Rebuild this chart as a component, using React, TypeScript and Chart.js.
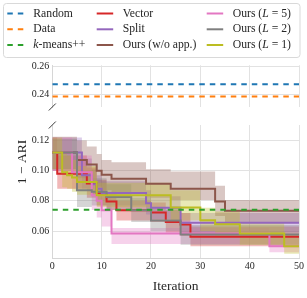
import { useEffect, useRef } from "react";
import { Chart, registerables } from "chart.js";

Chart.register(...registerables);

// ---------- data ----------
const xTicks = [0, 10, 20, 30, 40, 50];
const topTicks = [0.24, 0.26];
const bottomTicks = [0.06, 0.08, 0.1, 0.12];

const randomValue = 0.2471;
const dataValue = 0.2383;
const kmeansValue = 0.0742;

const vectorX = [0, 1, 7, 9, 11, 13, 20, 23, 26, 28, 50];
const vectorMean = [0.112, 0.098, 0.0915, 0.085, 0.0795, 0.0738, 0.0723, 0.0661, 0.0644, 0.0562, 0.0562];
const vectorHi = [0.122, 0.11, 0.102, 0.094, 0.086, 0.08, 0.079, 0.074, 0.072, 0.063, 0.063];
const vectorLo = [0.1, 0.088, 0.082, 0.077, 0.074, 0.067, 0.066, 0.059, 0.057, 0.05, 0.05];

const splitX = [0, 6, 8, 9, 10, 19, 20, 26, 50];
const splitMean = [0.112, 0.097, 0.091, 0.088, 0.0852, 0.0785, 0.0755, 0.0655, 0.0655];
const splitHi = [0.122, 0.108, 0.101, 0.097, 0.093, 0.087, 0.083, 0.072, 0.072];
const splitLo = [0.1, 0.088, 0.083, 0.08, 0.077, 0.071, 0.068, 0.059, 0.059];

const woX = [0, 5, 7, 9, 10, 12, 19, 24, 33, 35, 50];
const woMean = [0.112, 0.107, 0.104, 0.1, 0.0973, 0.0947, 0.0914, 0.088, 0.0795, 0.0735, 0.0735];
const woHi = [0.1225, 0.12, 0.116, 0.111, 0.107, 0.1055, 0.101, 0.0995, 0.09, 0.0805, 0.0805];
const woLo = [0.101, 0.095, 0.092, 0.089, 0.087, 0.085, 0.082, 0.0805, 0.07, 0.066, 0.066];

const l5X = [0, 4, 8, 9, 10, 12, 44, 50];
const l5Mean = [0.112, 0.099, 0.0837, 0.08, 0.0738, 0.0584, 0.05, 0.05];
const l5Hi = [0.122, 0.11, 0.095, 0.09, 0.083, 0.062, 0.056, 0.056];
const l5Lo = [0.1, 0.088, 0.074, 0.069, 0.063, 0.0515, 0.046, 0.046];

const l2X = [0, 5, 8, 11, 16, 20, 26, 50];
const l2Mean = [0.112, 0.087, 0.086, 0.0826, 0.0738, 0.067, 0.0578, 0.0578];
const l2Hi = [0.121, 0.099, 0.095, 0.091, 0.082, 0.075, 0.064, 0.064];
const l2Lo = [0.101, 0.076, 0.077, 0.074, 0.066, 0.06, 0.051, 0.051];

const l1X = [0, 2, 3, 4, 5, 9, 24, 30, 33, 38, 47, 50];
const l1Mean = [0.112, 0.099, 0.097, 0.0955, 0.0925, 0.0837, 0.0756, 0.0672, 0.0645, 0.0584, 0.05, 0.05];
const l1Hi = [0.122, 0.112, 0.11, 0.107, 0.103, 0.092, 0.087, 0.0755, 0.073, 0.066, 0.058, 0.058];
const l1Lo = [0.101, 0.089, 0.088, 0.086, 0.084, 0.076, 0.067, 0.06, 0.057, 0.051, 0.045, 0.045];

// ---------- style ----------
const FONT = '"Liberation Serif", "Times New Roman", serif';
const TEXT = "#262626";
const GRID = "#e2e2e2";
const SPINE = "#d6d6d6";
const C = {
  blue: "#1f77b4",
  orange: "#ff7f0e",
  green: "#2ca02c",
  red: "#d62728",
  purple: "#9467bd",
  brown: "#8c564b",
  pink: "#e377c2",
  gray: "#7f7f7f",
  olive: "#bcbd22",
};
const DASH = [5.5, 5];

function rgba(hex: string, a: number) {
  const n = parseInt(hex.slice(1), 16);
  return `rgba(${(n >> 16) & 255},${(n >> 8) & 255},${n & 255},${a})`;
}
function pts(xs: number[], ys: number[]) {
  return xs.map((x, i) => ({ x, y: ys[i] }));
}

const series = [
  { label: "Vector", color: C.red, x: vectorX, mean: vectorMean, hi: vectorHi, lo: vectorLo },
  { label: "Split", color: C.purple, x: splitX, mean: splitMean, hi: splitHi, lo: splitLo },
  { label: "Ours (w/o app.)", color: C.brown, x: woX, mean: woMean, hi: woHi, lo: woLo },
  { label: "Ours (L = 5)", color: C.pink, x: l5X, mean: l5Mean, hi: l5Hi, lo: l5Lo },
  { label: "Ours (L = 2)", color: C.gray, x: l2X, mean: l2Mean, hi: l2Hi, lo: l2Lo },
  { label: "Ours (L = 1)", color: C.olive, x: l1X, mean: l1Mean, hi: l1Hi, lo: l1Lo },
];

type Run = { t: string; i?: boolean };
const legendItems: { runs: Run[]; color: string; dashed: boolean; col: number; row: number }[] = [
  { runs: [{ t: "Random" }], color: C.blue, dashed: true, col: 0, row: 0 },
  { runs: [{ t: "Data" }], color: C.orange, dashed: true, col: 0, row: 1 },
  { runs: [{ t: "k", i: true }, { t: "-means++" }], color: C.green, dashed: true, col: 0, row: 2 },
  { runs: [{ t: "Vector" }], color: C.red, dashed: false, col: 1, row: 0 },
  { runs: [{ t: "Split" }], color: C.purple, dashed: false, col: 1, row: 1 },
  { runs: [{ t: "Ours (w/o app.)" }], color: C.brown, dashed: false, col: 1, row: 2 },
  { runs: [{ t: "Ours (" }, { t: "L", i: true }, { t: " = 5)" }], color: C.pink, dashed: false, col: 2, row: 0 },
  { runs: [{ t: "Ours (" }, { t: "L", i: true }, { t: " = 2)" }], color: C.gray, dashed: false, col: 2, row: 1 },
  { runs: [{ t: "Ours (" }, { t: "L", i: true }, { t: " = 1)" }], color: C.olive, dashed: false, col: 2, row: 2 },
];
const legendColX = [7.3, 96.7, 206.7];
const legendRowY = [13.5, 29.3, 45];

const LEGEND_FONT = 11.7;

const legendPlugin = {
  id: "legendBox",
  afterDraw(chart: any) {
    const ctx: CanvasRenderingContext2D = chart.ctx;
    ctx.save();
    ctx.beginPath();
    (ctx as any).roundRect(3.5, 3.5, 296.5, 54, 3);
    ctx.strokeStyle = "#d9d9d9";
    ctx.lineWidth = 1;
    ctx.stroke();
    legendItems.forEach((it) => {
      const x0 = legendColX[it.col];
      const y = legendRowY[it.row];
      ctx.beginPath();
      ctx.setLineDash(it.dashed ? DASH : []);
      ctx.lineDashOffset = 0;
      ctx.strokeStyle = it.color;
      ctx.lineWidth = 2;
      ctx.moveTo(x0, y);
      ctx.lineTo(x0 + 16.5, y);
      ctx.stroke();
      ctx.setLineDash([]);
      let x = x0 + 26;
      ctx.fillStyle = TEXT;
      ctx.textBaseline = "middle";
      ctx.textAlign = "left";
      it.runs.forEach((r) => {
        ctx.font = `${r.i ? "italic " : ""}${LEGEND_FONT}px ${FONT}`;
        ctx.fillText(r.t, x, y);
        x += ctx.measureText(r.t).width;
      });
    });
    ctx.restore();
  },
};

function breakMark(ctx: CanvasRenderingContext2D, x: number, y: number) {
  ctx.save();
  ctx.beginPath();
  ctx.strokeStyle = "#3a3a3a";
  ctx.lineWidth = 1;
  ctx.moveTo(x - 3.5, y + 3.5);
  ctx.lineTo(x + 3.5, y - 3.5);
  ctx.stroke();
  ctx.restore();
}

const topBreakPlugin = {
  id: "topBreak",
  afterDraw(chart: any) {
    const a = chart.chartArea;
    breakMark(chart.ctx, a.left, a.bottom);
  },
};

const bottomBreakPlugin = {
  id: "bottomBreak",
  afterDraw(chart: any) {
    const a = chart.chartArea;
    breakMark(chart.ctx, a.left, a.top);
    const ctx: CanvasRenderingContext2D = chart.ctx;
    ctx.save();
    ctx.translate(22, 46);
    ctx.rotate(-Math.PI / 2);
    ctx.font = `13.5px ${FONT}`;
    ctx.fillStyle = TEXT;
    ctx.textAlign = "center";
    ctx.textBaseline = "middle";
    ctx.fillText("1 \u2212 ARI", 0, 0);
    ctx.restore();
  },
};

const Y_AXIS_W = 52.3;

export default function App() {
  const topRef = useRef<HTMLCanvasElement>(null);
  const botRef = useRef<HTMLCanvasElement>(null);

  useEffect(() => {
    const tickFont = { family: FONT, size: 10 };
    const top = new Chart(topRef.current!, {
      type: "line",
      data: {
        datasets: [
          {
            label: "Random",
            data: pts([0, 50], [randomValue, randomValue]),
            borderColor: C.blue,
            borderWidth: 2,
            borderDash: DASH,
            pointRadius: 0,
            fill: false,
          },
          {
            label: "Data",
            data: pts([0, 50], [dataValue, dataValue]),
            borderColor: C.orange,
            borderWidth: 2,
            borderDash: DASH,
            pointRadius: 0,
            fill: false,
          },
        ],
      },
      options: {
        animation: false,
        responsive: false,
        devicePixelRatio: 1,
        layout: { padding: { top: 65.3, bottom: 4.7, left: 0, right: 8 } },
        plugins: { legend: { display: false }, tooltip: { enabled: false } },
        scales: {
          x: {
            type: "linear",
            min: 0,
            max: 50,
            afterBuildTicks: (ax: any) => {
              ax.ticks = xTicks.map((v) => ({ value: v }));
            },
            afterFit: (ax: any) => {
              ax.height = 0;
            },
            ticks: { display: false },
            grid: { color: GRID, drawTicks: false, lineWidth: 1 },
            border: { display: false },
          },
          y: {
            type: "linear",
            min: 0.2307,
            max: 0.2607,
            afterBuildTicks: (ax: any) => {
              ax.ticks = topTicks.map((v) => ({ value: v }));
            },
            afterFit: (ax: any) => {
              ax.width = Y_AXIS_W;
            },
            ticks: {
              font: tickFont,
              color: TEXT,
              padding: 3,
              callback: (v: any) => Number(v).toFixed(2),
            },
            grid: { color: GRID, drawTicks: false, lineWidth: 1 },
            border: { display: true, color: SPINE },
          },
        },
      },
      plugins: [legendPlugin, topBreakPlugin],
    });

    const datasets: any[] = [];
    series.forEach((s, k) => {
      datasets.push({
        label: s.label + " hi",
        data: pts(s.x, s.hi),
        stepped: "before",
        borderWidth: 0,
        borderColor: "rgba(0,0,0,0)",
        pointRadius: 0,
        fill: "+1",
        backgroundColor: rgba(s.color, 0.33),
        order: 20 + (series.length - k),
      });
      datasets.push({
        label: s.label + " lo",
        data: pts(s.x, s.lo),
        stepped: "before",
        borderWidth: 0,
        borderColor: "rgba(0,0,0,0)",
        pointRadius: 0,
        fill: false,
        order: 20 + (series.length - k),
      });
    });
    series.forEach((s, k) => {
      datasets.push({
        label: s.label,
        data: pts(s.x, s.mean),
        stepped: "before",
        borderColor: s.color,
        borderWidth: 2,
        pointRadius: 0,
        fill: false,
        order: 1 + (series.length - 1 - k),
      });
    });
    datasets.push({
      label: "k-means++",
      data: pts([0, 50], [kmeansValue, kmeansValue]),
      borderColor: C.green,
      borderWidth: 2,
      borderDash: DASH,
      pointRadius: 0,
      fill: false,
      order: 0,
    });

    const bot = new Chart(botRef.current!, {
      type: "line",
      data: { datasets },
      options: {
        animation: false,
        responsive: false,
        devicePixelRatio: 1,
        layout: { padding: { top: 8.7, bottom: 0, left: 0, right: 8 } },
        plugins: { legend: { display: false }, tooltip: { enabled: false } },
        scales: {
          x: {
            type: "linear",
            min: 0,
            max: 50,
            afterBuildTicks: (ax: any) => {
              ax.ticks = xTicks.map((v) => ({ value: v }));
            },
            afterFit: (ax: any) => {
              ax.height = 39.7;
            },
            ticks: { font: tickFont, color: TEXT, padding: 2, maxRotation: 0 },
            grid: { color: GRID, drawTicks: false, lineWidth: 1 },
            border: { display: true, color: SPINE },
            title: {
              display: true,
              text: "Iteration",
              font: { family: FONT, size: 13.5 },
              color: TEXT,
              padding: { top: 0, bottom: 3 },
            },
          },
          y: {
            type: "linear",
            min: 0.042,
            max: 0.1302,
            afterBuildTicks: (ax: any) => {
              ax.ticks = bottomTicks.map((v) => ({ value: v }));
            },
            afterFit: (ax: any) => {
              ax.width = Y_AXIS_W;
            },
            ticks: {
              font: tickFont,
              color: TEXT,
              padding: 3,
              callback: (v: any) => Number(v).toFixed(2),
            },
            grid: { color: GRID, drawTicks: false, lineWidth: 1 },
            border: { display: true, color: SPINE },
          },
        },
      },
      plugins: [bottomBreakPlugin],
    });

    return () => {
      top.destroy();
      bot.destroy();
    };
  }, []);

  return (
    <div style={{ position: "absolute", left: 0, top: 0, width: 307, height: 298, background: "#fff" }}>
      <canvas
        ref={topRef}
        width={307}
        height={116}
        style={{ position: "absolute", left: 0, top: 0, width: 307, height: 116 }}
      />
      <canvas
        ref={botRef}
        width={307}
        height={182}
        style={{ position: "absolute", left: 0, top: 116, width: 307, height: 182 }}
      />
    </div>
  );
}
